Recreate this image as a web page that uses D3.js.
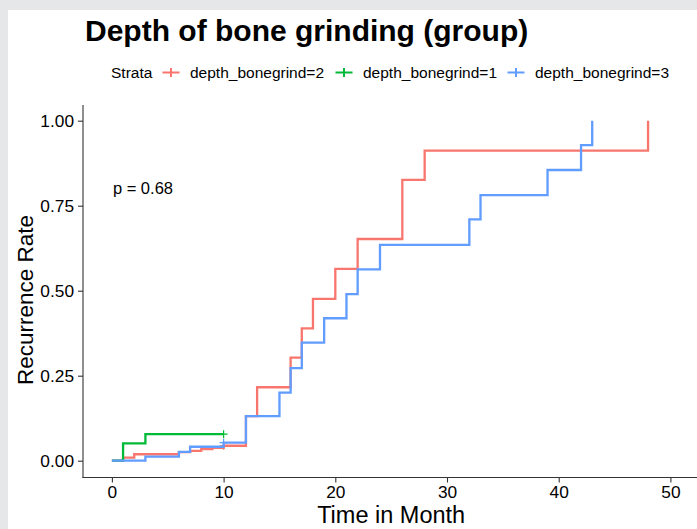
<!DOCTYPE html>
<html>
<head>
<meta charset="utf-8">
<script src="https://cdn.jsdelivr.net/npm/d3@7"></script>
<style>
  html, body { margin: 0; padding: 0; background: #e6e7e9; }
  #chart { position: absolute; left: 0; top: 0; }
  text { font-family: "Liberation Sans", Arial, Helvetica, sans-serif; fill: #000; }
</style>
</head>
<body>
<div id="chart"></div>
<script>
// strata, in legend order
var strata = ["depth_bonegrind=2", "depth_bonegrind=1", "depth_bonegrind=3"];
var colors = ["#F8766D", "#00BA38", "#619CFF"];

// cumulative recurrence
var timesG2 = [0, 1, 2, 6, 7, 8, 9, 10, 12, 13, 16, 17, 18, 20, 22, 26, 28, 48];
var rateG2  = [0, 0.009, 0.019, 0.025, 0.029, 0.034, 0.038, 0.044, 0.131, 0.216, 0.303, 0.389, 0.476, 0.564, 0.652, 0.826, 0.912, 1.0];

var timesG1 = [0, 1, 3, 10];
var rateG1  = [0, 0.051, 0.078, 0.078];

var timesG3 = [0, 3, 6, 7, 10, 12, 15, 16, 17, 19, 21, 22, 24, 32, 33, 39, 42, 43];
var rateG3  = [0, 0.012, 0.026, 0.041, 0.053, 0.131, 0.2, 0.272, 0.347, 0.419, 0.49, 0.563, 0.635, 0.71, 0.781, 0.855, 0.928, 1.0];

var censorG2 = [10];
var censorG1 = [10];
var censorG3 = [10];

var xTicks = [0, 10, 20, 30, 40, 50];
var yTicks = [0, 0.25, 0.5, 0.75, 1];
var pvalText = "p = 0.68";

var W = 697, H = 529;

var svg = d3.select("#chart").append("svg")
    .attr("width", W)
    .attr("height", H);

// white panel inside the grey frame
svg.append("rect")
    .attr("x", 8).attr("y", 10)
    .attr("width", W - 8).attr("height", H - 10)
    .attr("fill", "#fff");

var x = d3.scaleLinear().domain([0, 50]).range([111.9, 670.4]);
var y = d3.scaleLinear().domain([0, 1]).range([460.7, 120.7]);

var groups = [
    {t: timesG2, v: rateG2, c: censorG2},
    {t: timesG1, v: rateG1, c: censorG1},
    {t: timesG3, v: rateG3, c: censorG3}
];

function valueAt(g, t) {
    var val = 0;
    g.t.forEach(function(tt, i) { if (tt <= t) val = g.v[i]; });
    return val;
}

// axes
var xAxis = d3.axisBottom(x).tickValues(xTicks).tickSize(5).tickSizeOuter(0).tickFormat(d3.format("d"));
var yAxis = d3.axisLeft(y).tickValues(yTicks).tickSize(5).tickSizeOuter(0).tickFormat(d3.format(".2f"));

var gx = svg.append("g").attr("transform", "translate(0,477.5)").call(xAxis);
var gy = svg.append("g").attr("transform", "translate(83,0)").call(yAxis);

[gx, gy].forEach(function(g) {
    g.select(".domain").remove();
    g.selectAll(".tick line").attr("stroke", "#333").attr("stroke-width", 1.1);
    g.selectAll(".tick text").attr("font-size", 17.3).attr("fill", "#000")
        .style("font-family", "Liberation Sans, Arial, sans-serif");
});
gy.selectAll(".tick text").attr("dx", "-1px");

svg.append("line")
    .attr("x1", 82.5).attr("x2", W)
    .attr("y1", 477.5).attr("y2", 477.5)
    .attr("stroke", "#333").attr("stroke-width", 1.1);
svg.append("line")
    .attr("x1", 83).attr("x2", 83)
    .attr("y1", y(1.046)).attr("y2", 478)
    .attr("stroke", "#333").attr("stroke-width", 1.1);

// curves
var line = d3.line()
    .x(function(d) { return x(d[0]); })
    .y(function(d) { return y(d[1]); })
    .curve(d3.curveStepAfter);

groups.forEach(function(g, i) {
    var pts = g.t.map(function(t, j) { return [t, g.v[j]]; });
    svg.append("path")
        .datum(pts)
        .attr("d", line)
        .attr("fill", "none")
        .attr("stroke", colors[i])
        .attr("stroke-width", 2.3);

    g.c.forEach(function(t) {
        var cx = x(t), cy = y(valueAt(g, t));
        svg.append("path")
            .attr("d", "M" + (cx - 4) + "," + cy + "H" + (cx + 4) + "M" + cx + "," + (cy - 4) + "V" + (cy + 4))
            .attr("stroke", colors[i])
            .attr("stroke-width", 1.2)
            .attr("fill", "none");
    });
});

// p value
svg.append("text")
    .attr("x", x(0) + 1)
    .attr("y", y(0.8))
    .attr("dy", "0.35em")
    .attr("font-size", 16.5)
    .text(pvalText);

// title
svg.append("text")
    .attr("x", 85)
    .attr("y", 41)
    .attr("font-size", 30)
    .attr("font-weight", "bold")
    .text("Depth of bone grinding (group)");

// legend
var legY = 72.5;
svg.append("text")
    .attr("x", 111).attr("y", legY).attr("dy", "0.35em")
    .attr("font-size", 15.5)
    .text("Strata");

var keyX = [171, 344, 516];
strata.forEach(function(s, i) {
    var cx = keyX[i];
    svg.append("path")
        .attr("d", "M" + (cx - 8.5) + "," + legY + "H" + (cx + 8.5) + "M" + cx + "," + (legY - 4.5) + "V" + (legY + 4.5))
        .attr("stroke", colors[i])
        .attr("stroke-width", 2)
        .attr("fill", "none");
    svg.append("text")
        .attr("x", cx + 19).attr("y", legY).attr("dy", "0.35em")
        .attr("font-size", 15.5)
        .text(s);
});

// axis titles
svg.append("text")
    .attr("x", x(25)).attr("y", 522.5)
    .attr("text-anchor", "middle")
    .attr("font-size", 23.5)
    .text("Time in Month");

svg.append("text")
    .attr("transform", "translate(33,300) rotate(-90)")
    .attr("text-anchor", "middle")
    .attr("font-size", 22.5)
    .text("Recurrence Rate");
</script>
</body>
</html>
